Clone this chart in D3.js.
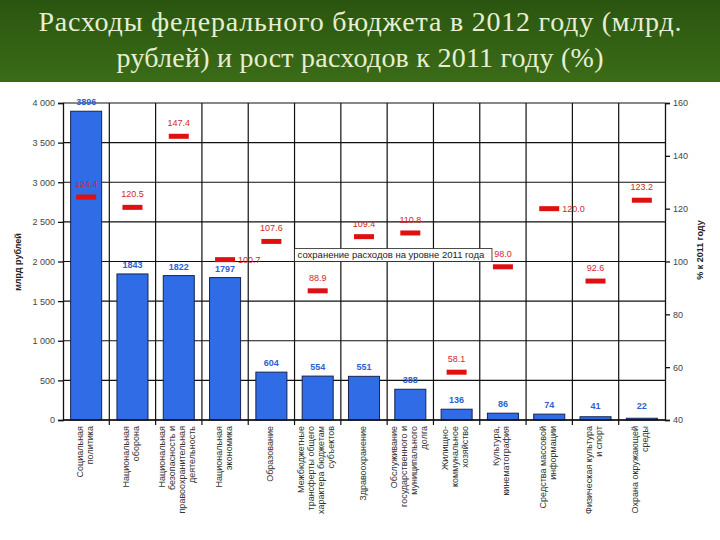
<!DOCTYPE html>
<html>
<head>
<meta charset="utf-8">
<script src="https://cdn.jsdelivr.net/npm/d3@7"></script>
<style>
  body { margin: 0; background: #fff; }
  svg { display: block; }
  text { font-family: "Liberation Sans", Arial, sans-serif; }
</style>
</head>
<body>
<svg id="chart" width="720" height="540"></svg>
<script>
// Data
const categories = [
    ["Социальная", "политика"],
    ["Национальная", "оборона"],
    ["Национальная", "безопасность и", "правоохранительная", "деятельность"],
    ["Национальная", "экономика"],
    ["Образование"],
    ["Межбюджетные", "трансферты общего", "характера бюджетам", "субъектов"],
    ["Здравоохранение"],
    ["Обслуживание", "государственного и", "муниципального", "долга"],
    ["Жилищно-", "коммунальное", "хозяйство"],
    ["Культура,", "кинематография"],
    ["Средства массовой", "информации"],
    ["Физическая культура", "и спорт"],
    ["Охрана окружающей", "среды"]
];
const spending2012 = [3896, 1843, 1822, 1797, 604, 554, 551, 388, 136, 86, 74, 41, 22];
const growthPct = [124.4, 120.5, 147.4, 100.7, 107.6, 88.9, 109.4, 110.8, 58.1, 98.0, 120.0, 92.6, 123.2];
const leftTicks = [0, 500, 1000, 1500, 2000, 2500, 3000, 3500, 4000];
const rightTicks = [40, 60, 80, 100, 120, 140, 160];
const titleLines = ["Расходы федерального бюджета в 2012 году (млрд.", "рублей) и рост расходов к 2011 году (%)"];
const note = "сохранение расходов на уровне 2011 года";
// labels drawn to the right of the marker instead of above
const sideLabels = [3, 10];

const svg = d3.select("#chart");

// Title band
const defs = svg.append("defs");
const grad = defs.append("linearGradient").attr("id", "band")
    .attr("x1", 0).attr("y1", 0).attr("x2", 0).attr("y2", 1);
grad.append("stop").attr("offset", "0%").attr("stop-color", "#2a5510");
grad.append("stop").attr("offset", "100%").attr("stop-color", "#3b6c17");

svg.append("rect").attr("x", 0).attr("y", 0).attr("width", 720).attr("height", 82)
    .attr("fill", "url(#band)");

const titleWidths = [643, 487];
svg.selectAll(".title").data(titleLines).enter().append("text")
    .attr("class", "title")
    .attr("x", 360)
    .attr("y", (d, i) => 31 + i * 36)
    .attr("text-anchor", "middle")
    .attr("textLength", (d, i) => titleWidths[i])
    .attr("lengthAdjust", "spacing")
    .style("font-family", "'Liberation Serif', 'DejaVu Serif', serif")
    .style("font-size", "28px")
    .attr("fill", "#e6efd2")
    .text(d => d);

// Scales
const x = d3.scaleBand()
    .domain(d3.range(categories.length))
    .range([63, 665])
    .paddingInner(0.33)
    .paddingOuter(0.165);
const step = x.step();
const y = d3.scaleLinear().domain([0, 4000]).range([420, 103]);
const yR = d3.scaleLinear().domain([40, 160]).range([420, 103]);

const cx = i => x(i) + x.bandwidth() / 2;

// Grid
const grid = svg.append("g").attr("stroke", "#111").attr("stroke-width", 1.2);
grid.selectAll(".h").data(leftTicks).enter().append("line")
    .attr("x1", 63).attr("x2", 665)
    .attr("y1", d => y(d)).attr("y2", d => y(d));
grid.selectAll(".v").data(d3.range(1, categories.length)).enter().append("line")
    .attr("x1", d => 63 + d * step).attr("x2", d => 63 + d * step)
    .attr("y1", 103).attr("y2", 425);

// Bars
svg.selectAll(".bar").data(spending2012).enter().append("rect")
    .attr("class", "bar")
    .attr("x", (d, i) => x(i))
    .attr("width", x.bandwidth())
    .attr("y", d => y(d))
    .attr("height", d => 420 - y(d))
    .attr("fill", "#2f6ce6")
    .attr("stroke", "#16244f")
    .attr("stroke-width", 1);

// Axes
const leftAxis = svg.append("g").attr("transform", "translate(63,0)")
    .call(d3.axisLeft(y).tickValues(leftTicks).tickSize(5)
        .tickFormat(d => d3.format(",")(d).replace(",", " ")));
const rightAxis = svg.append("g").attr("transform", "translate(665,0)")
    .call(d3.axisRight(yR).tickValues(rightTicks).tickSize(5));
[leftAxis, rightAxis].forEach(a => {
    a.select(".domain").attr("stroke", "#111").attr("stroke-width", 1.3);
    a.selectAll(".tick line").attr("stroke", "#111").attr("stroke-width", 1.3);
    a.selectAll(".tick text").attr("fill", "#444")
        .style("font-size", "9px");
});
svg.append("line").attr("x1", 63).attr("x2", 665).attr("y1", 420).attr("y2", 420)
    .attr("stroke", "#111").attr("stroke-width", 1.3);

// Axis titles
svg.append("text")
    .attr("transform", "translate(21,262) rotate(-90)")
    .attr("text-anchor", "middle")
    .style("font-size", "9px").style("font-weight", "bold")
    .attr("fill", "#222")
    .text("млрд рублей");
svg.append("text")
    .attr("transform", "translate(703,250) rotate(-90)")
    .attr("text-anchor", "middle")
    .style("font-size", "9px").style("font-weight", "bold")
    .attr("fill", "#222")
    .text("% к 2011 году");

// Bar value labels
svg.selectAll(".val").data(spending2012).enter().append("text")
    .attr("x", (d, i) => cx(i))
    .attr("y", d => Math.min(y(d) - 6, 409))
    .attr("text-anchor", "middle")
    .style("font-size", "9px").style("font-weight", "bold")
    .attr("fill", "#2f5fd0")
    .text(d => d);

// Note box at 100% level
const noteG = svg.append("g");
const noteRect = noteG.append("rect").attr("fill", "#fff").attr("stroke", "#222").attr("stroke-width", 0.8);
const noteText = noteG.append("text")
    .attr("x", 63 + 5 * step + 3)
    .attr("y", yR(100) - 3.5)
    .style("font-size", "9.5px")
    .attr("fill", "#222")
    .text(note);
const nb = noteText.node().getBBox();
noteRect.attr("x", 63 + 5 * step).attr("y", yR(100) - 13)
    .attr("width", nb.width + 10).attr("height", 13);

// Growth markers
svg.selectAll(".mark").data(growthPct).enter().append("rect")
    .attr("x", (d, i) => cx(i) - 10)
    .attr("y", d => yR(d) - 2.5)
    .attr("width", 20).attr("height", 5)
    .attr("fill", "#e01010");

svg.selectAll(".pct").data(growthPct).enter().append("text")
    .attr("x", (d, i) => sideLabels.includes(i) ? cx(i) + 13 : cx(i))
    .attr("y", (d, i) => sideLabels.includes(i) ? yR(d) + 3 : yR(d) - 10)
    .attr("text-anchor", (d, i) => sideLabels.includes(i) ? "start" : "middle")
    .style("font-size", "9px")
    .attr("fill", "#d02828")
    .text(d => d.toFixed(1));

// Category labels (rotated)
const lh = 10;
categories.forEach((lines, i) => {
    const n = lines.length;
    lines.forEach((line, j) => {
        const lx = cx(i) - 2 + (j - (n - 1) / 2) * lh + 3.5;
        svg.append("text")
            .attr("transform", `translate(${lx},426) rotate(-90)`)
            .attr("text-anchor", "end")
            .style("font-size", "9px")
            .attr("fill", "#333")
            .text(line);
    });
});
</script>
</body>
</html>
